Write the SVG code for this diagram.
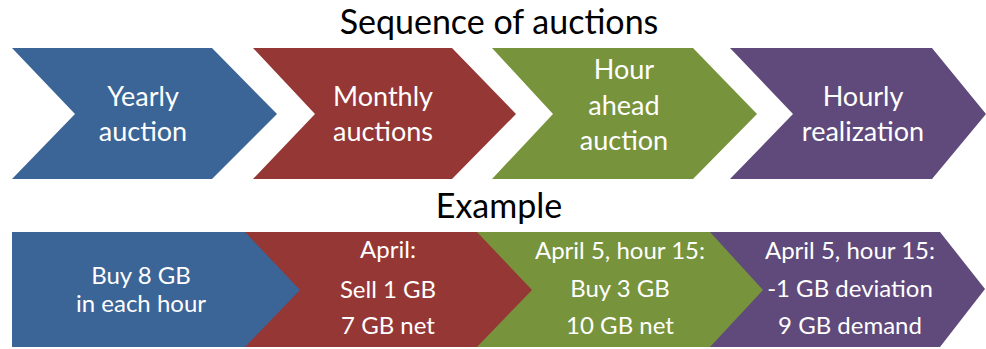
<svg xmlns="http://www.w3.org/2000/svg" width="986" height="349" viewBox="0 0 986 349">
<style>
.t{font-family:Lato,"Open Sans","Liberation Sans",sans-serif;text-anchor:middle}
.h{font-size:34px;fill:#000}
.n{font-size:27px;fill:#fff}
.e{font-size:24px;fill:#fff}
.blue{fill:#3B6497}
.red{fill:#953735}
.green{fill:#77933C}
.purple{fill:#5F4A7B}
</style>
<rect width="986" height="349" fill="#fff"/>
<text class="t h" x="499" y="34">Sequence of auctions</text>
<text class="t h" x="499" y="218">Example</text>
<g id="yearly">
<polygon class="blue" points="12,48 212,48 277,114 212,179 12,179 75,114"/>
<text class="t n" x="143" y="106">Yearly</text>
<text class="t n" x="143" y="141">auction</text>
</g>
<g id="monthly">
<polygon class="red" points="253,48 452,48 516,114 452,179 253,179 315,114"/>
<text class="t n" x="383" y="106">Monthly</text>
<text class="t n" x="383" y="141">auctions</text>
</g>
<g id="hourahead">
<polygon class="green" points="492,48 693,48 757,114 693,179 492,179 553,114"/>
<text class="t n" x="624" y="79">Hour</text>
<text class="t n" x="624" y="115">ahead</text>
<text class="t n" x="624" y="150">auction</text>
</g>
<g id="hourly">
<polygon class="purple" points="730,48 932,48 986,114 932,179 730,179 793,114"/>
<text class="t n" x="863" y="106">Hourly</text>
<text class="t n" x="863" y="141">realization</text>
</g>
<g id="ex-hourly">
<polygon class="purple" points="705,232 940,232 985,289 940,347 705,347"/>
<text class="t e" x="850" y="259">April 5, hour 15:</text>
<text class="t e" x="850" y="297">-1 GB deviation</text>
<text class="t e" x="850" y="334">9 GB demand</text>
</g>
<g id="ex-hourahead">
<polygon class="green" points="475,232 710,232 763,290 710,347 475,347"/>
<text class="t e" x="620" y="259">April 5, hour 15:</text>
<text class="t e" x="620" y="297">Buy 3 GB</text>
<text class="t e" x="620" y="334">10 GB net</text>
</g>
<g id="ex-monthly">
<polygon class="red" points="245,232 477,232 532,290 477,347 245,347"/>
<text class="t e" x="388" y="258">April:</text>
<text class="t e" x="388" y="298">Sell 1 GB</text>
<text class="t e" x="388" y="334">7 GB net</text>
</g>
<g id="ex-yearly">
<polygon class="blue" points="12,232 245,232 300,290 245,347 12,347"/>
<text class="t e" x="141" y="284">Buy 8 GB</text>
<text class="t e" x="141" y="312">in each hour</text>
</g>
<g id="connectors"/>
</svg>
